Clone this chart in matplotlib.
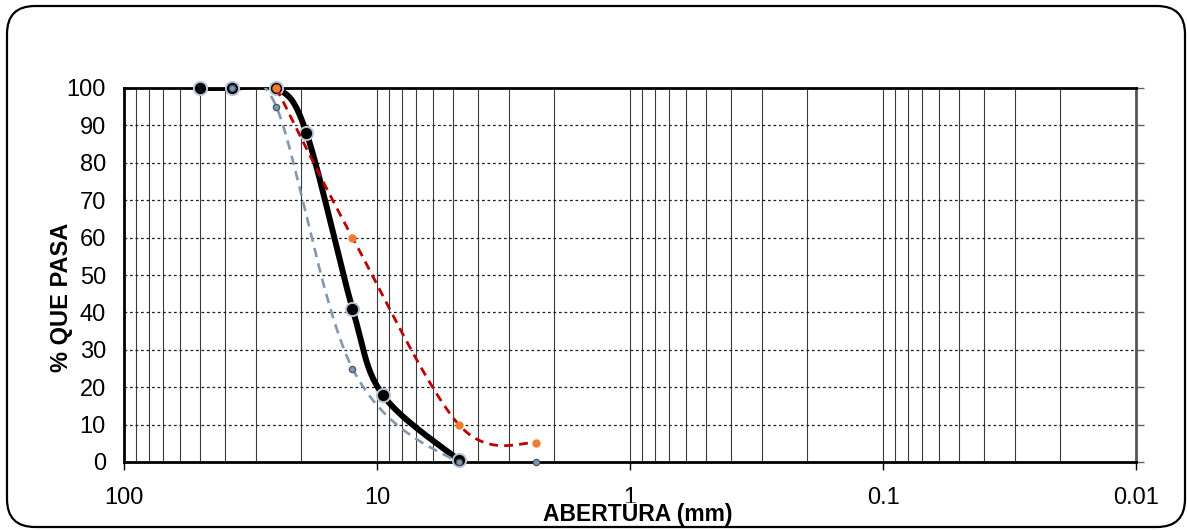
import numpy as np
import matplotlib
matplotlib.use("Agg")
import matplotlib.pyplot as plt
from matplotlib.patches import FancyBboxPatch
from matplotlib.ticker import LogLocator, NullFormatter, FixedLocator, FixedFormatter

# ---- data ----
sieve_black = [50, 37.5, 25, 19, 12.5, 9.5, 4.75]
pass_black = [100, 100, 100, 88, 41, 18, 0.5]

sieve_red = [25, 12.5, 4.75, 2.36]
pass_red = [100, 60, 10, 5]

sieve_gray = [37.5, 25, 12.5, 4.75, 2.36]
pass_gray = [100, 95, 25, 0, 0]

x_ticks = [100, 10, 1, 0.1, 0.01]
x_tick_labels = ["100", "10", "1", "0.1", "0.01"]
y_ticks = [0, 10, 20, 30, 40, 50, 60, 70, 80, 90, 100]

FONT = ["Liberation Sans Narrow", "Liberation Sans", "DejaVu Sans"]
plt.rcParams["font.family"] = FONT

W, H = 1187, 531
fig = plt.figure(figsize=(W / 100, H / 100), dpi=100)

# rounded border around the chart area
border = FancyBboxPatch((7 / 100, (H - 527) / 100), (1185 - 7) / 100, (527 - 6) / 100,
                        boxstyle="round,pad=0,rounding_size=0.28",
                        transform=fig.dpi_scale_trans, fill=False,
                        edgecolor="black", linewidth=1.6)
fig.patches.append(border)

L, R, T, B = 124, 1136, 88, 462
ax = fig.add_axes([L / W, 1 - B / H, (R - L) / W, (B - T) / H])
ax.set_xscale("log")
ax.set_xlim(100, 0.01)
ax.set_ylim(0, 100)

# grid
ax.xaxis.set_major_locator(FixedLocator(x_ticks))
ax.xaxis.set_major_formatter(FixedFormatter(x_tick_labels))
ax.xaxis.set_minor_locator(LogLocator(base=10, subs=np.arange(2, 10), numticks=20))
ax.xaxis.set_minor_formatter(NullFormatter())
ax.set_yticks(y_ticks)
ax.grid(True, axis="x", which="both", color="#3a3a3a", linewidth=0.8)
ax.grid(True, axis="y", which="major", color="#202020", linewidth=0.9,
        linestyle=(0, (2.2, 2.2)))
ax.set_axisbelow(True)

TICK_FS = 17
ax.tick_params(axis="x", which="major", direction="out", length=6, width=1,
               pad=12, labelsize=TICK_FS, color="black")
ax.tick_params(axis="x", which="minor", length=0)
ax.tick_params(axis="y", which="major", left=False, right=True, labelleft=True,
               direction="out", length=6, width=1, color="#606060",
               pad=7, labelsize=TICK_FS)

for s in ["left", "bottom", "top"]:
    ax.spines[s].set_color("black")
    ax.spines[s].set_linewidth(2.0)
ax.spines["right"].set_color("#555555")
ax.spines["right"].set_linewidth(2.0)


def smooth(xs, ys, n=40):
    pts = ax.transData.transform(np.column_stack([xs, ys]))
    P = np.vstack([pts[0], pts, pts[-1]])
    out = []
    t = np.linspace(0, 1, n)[:, None]
    for i in range(1, len(P) - 2):
        p0, p1, p2, p3 = P[i - 1], P[i], P[i + 1], P[i + 2]
        c1 = p1 + (p2 - p0) / 6.0
        c2 = p2 - (p3 - p1) / 6.0
        seg = (1 - t) ** 3 * p1 + 3 * (1 - t) ** 2 * t * c1 + 3 * (1 - t) * t ** 2 * c2 + t ** 3 * p2
        out.append(seg if i == 1 else seg[1:])
    d = np.vstack(out)
    r = ax.transData.inverted().transform(d)
    return r[:, 0], r[:, 1]


# black series
bx, by = smooth(sieve_black, pass_black)
ax.plot(bx, by, color="black", linewidth=4.3, solid_capstyle="round", zorder=3)
ax.plot(sieve_black, pass_black, linestyle="none", marker="o", markersize=9.5,
        markerfacecolor="black", markeredgecolor="#b8c4d6", markeredgewidth=1.4,
        zorder=4, clip_on=False)

# red series
rx, ry = smooth(sieve_red, pass_red)
ax.plot(rx, ry, color="#c00000", linewidth=2.0, linestyle=(0, (3.2, 2.2)), zorder=5)
ax.plot(sieve_red, pass_red, linestyle="none", marker="o", markersize=5,
        markerfacecolor="#ed7d31", markeredgecolor="#ed7d31", zorder=6, clip_on=False)

# gray series
gx, gy = smooth(sieve_gray, pass_gray)
ax.plot(gx, gy, color="#8497b0", linewidth=1.9, linestyle=(0, (3.6, 2.4)), zorder=7)
ax.plot(sieve_gray, pass_gray, linestyle="none", marker="o", markersize=4.5,
        markerfacecolor="#8497b0", markeredgecolor="#44546a", markeredgewidth=0.9,
        zorder=8, clip_on=False)

ax.set_xlabel("ABERTURA (mm)", fontsize=16.5, fontweight="bold", va="center",
              bbox=dict(facecolor="white", edgecolor="none", pad=0.5))
ax.xaxis.set_label_coords((638 - L) / (R - L), (B - 515) / (B - T))
ax.set_ylabel("% QUE PASA", fontsize=17, fontweight="bold", va="center")
ax.yaxis.set_label_coords((62 - L) / (R - L), (B - 297) / (B - T))

fig.savefig("out.png", dpi=100)
